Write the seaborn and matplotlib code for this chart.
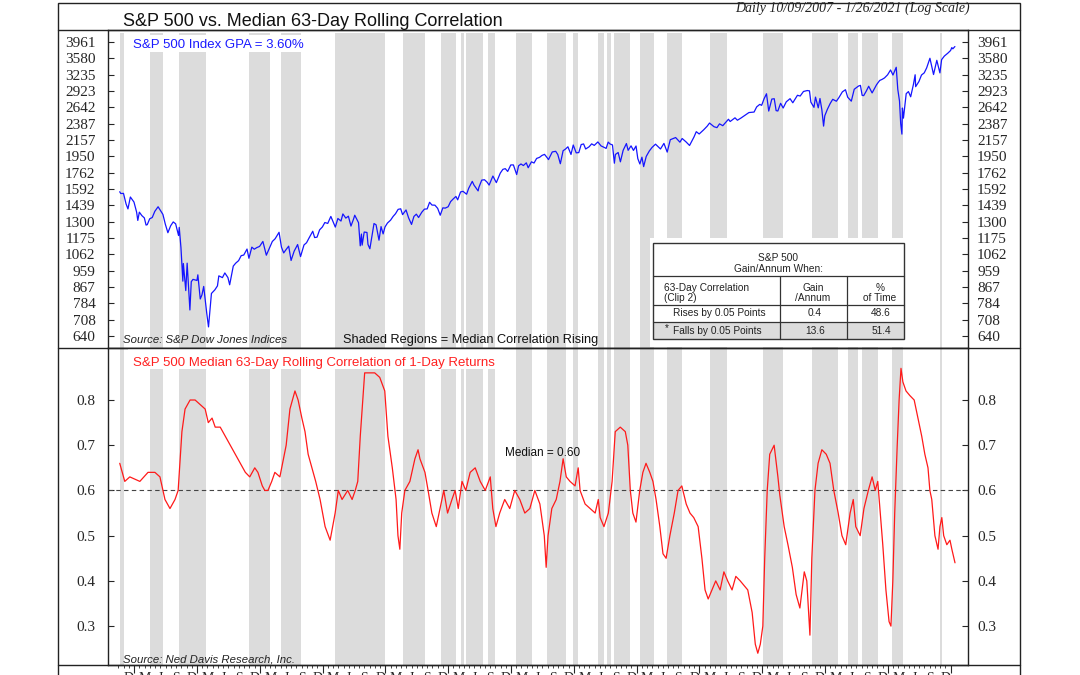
import pandas as pd
import numpy as np
import matplotlib.pyplot as plt
import seaborn as sns
from matplotlib.patches import Rectangle
from matplotlib.lines import Line2D
from matplotlib.ticker import NullLocator, FixedLocator

# S&P 500 index (approx. closes)
spx_dates = [
    "2007-10-09", "2007-10-15", "2007-10-31", "2007-11-15", "2007-11-26", "2007-12-10", "2007-12-31",
    "2008-01-15", "2008-01-22", "2008-01-31", "2008-02-15", "2008-02-29", "2008-03-10", "2008-03-17",
    "2008-03-31", "2008-04-15", "2008-04-30", "2008-05-19", "2008-05-30", "2008-06-16", "2008-06-30",
    "2008-07-15", "2008-07-31", "2008-08-15", "2008-08-29", "2008-09-15", "2008-09-19", "2008-09-29",
    "2008-10-10", "2008-10-13", "2008-10-27", "2008-11-04", "2008-11-20", "2008-11-28", "2008-12-08",
    "2008-12-31",
    "2009-01-06", "2009-01-20", "2009-01-30", "2009-02-09", "2009-02-27", "2009-03-09", "2009-03-26",
    "2009-04-15", "2009-04-30", "2009-05-08", "2009-05-29", "2009-06-12", "2009-06-30", "2009-07-10",
    "2009-07-31", "2009-08-14", "2009-08-31", "2009-09-15", "2009-09-30", "2009-10-19", "2009-10-30",
    "2009-11-16", "2009-11-30", "2009-12-15", "2009-12-31",
    "2010-01-19", "2010-02-08", "2010-02-26", "2010-03-15", "2010-03-31", "2010-04-23", "2010-05-07",
    "2010-05-20", "2010-05-31", "2010-06-18", "2010-07-02", "2010-07-20", "2010-08-09", "2010-08-26",
    "2010-09-15", "2010-09-30", "2010-10-15", "2010-11-05", "2010-11-16", "2010-11-30", "2010-12-15",
    "2010-12-31",
    "2011-01-14", "2011-01-31", "2011-02-18", "2011-03-16", "2011-03-31", "2011-04-18", "2011-04-29",
    "2011-05-16", "2011-05-31", "2011-06-15", "2011-06-30", "2011-07-07", "2011-07-29", "2011-08-08",
    "2011-08-15", "2011-08-19", "2011-08-31", "2011-09-16", "2011-09-22", "2011-10-03", "2011-10-27",
    "2011-11-08", "2011-11-25", "2011-12-07", "2011-12-19", "2011-12-30",
    "2012-01-13", "2012-01-31", "2012-02-15", "2012-02-29", "2012-03-15", "2012-03-30", "2012-04-10",
    "2012-04-30", "2012-05-15", "2012-06-01", "2012-06-15", "2012-06-29", "2012-07-12", "2012-07-31",
    "2012-08-15", "2012-08-31", "2012-09-14", "2012-09-28", "2012-10-15", "2012-10-31", "2012-11-15",
    "2012-11-30", "2012-12-14", "2012-12-31",
    "2013-01-15", "2013-01-31", "2013-02-15", "2013-02-25", "2013-03-14", "2013-03-28", "2013-04-18",
    "2013-04-30", "2013-05-21", "2013-05-31", "2013-06-24", "2013-06-28", "2013-07-15", "2013-07-31",
    "2013-08-15", "2013-08-27", "2013-09-18", "2013-09-30", "2013-10-08", "2013-10-31", "2013-11-15",
    "2013-11-29", "2013-12-13", "2013-12-31",
    "2014-01-15", "2014-02-03", "2014-02-14", "2014-02-28", "2014-03-14", "2014-03-31", "2014-04-11",
    "2014-04-30", "2014-05-15", "2014-05-30", "2014-06-16", "2014-06-30", "2014-07-15", "2014-07-31",
    "2014-08-07", "2014-08-29", "2014-09-18", "2014-09-30", "2014-10-15", "2014-10-31", "2014-11-14",
    "2014-11-28", "2014-12-16", "2014-12-29",
    "2015-01-15", "2015-01-30", "2015-02-13", "2015-02-27", "2015-03-11", "2015-03-31", "2015-04-15",
    "2015-04-30", "2015-05-21", "2015-06-08", "2015-06-29", "2015-07-08", "2015-07-20", "2015-07-31",
    "2015-08-14", "2015-08-25", "2015-08-31", "2015-09-16", "2015-09-29", "2015-10-15", "2015-11-03",
    "2015-11-13", "2015-11-30", "2015-12-14", "2015-12-29",
    "2016-01-08", "2016-01-20", "2016-02-01", "2016-02-11", "2016-02-26", "2016-03-15", "2016-03-31",
    "2016-04-20", "2016-05-19", "2016-06-08", "2016-06-27", "2016-07-15", "2016-08-15", "2016-09-09",
    "2016-09-22", "2016-10-14", "2016-11-04", "2016-11-30", "2016-12-13", "2016-12-30",
    "2017-01-26", "2017-02-15", "2017-03-01", "2017-03-27", "2017-04-13", "2017-04-28", "2017-05-17",
    "2017-06-19", "2017-06-29", "2017-07-27", "2017-08-10", "2017-08-31", "2017-09-20", "2017-10-16",
    "2017-11-15", "2017-11-30", "2017-12-18", "2017-12-29",
    "2018-01-12", "2018-01-26", "2018-02-08", "2018-02-26", "2018-03-12", "2018-03-23", "2018-04-02",
    "2018-04-18", "2018-05-03", "2018-05-21", "2018-06-12", "2018-06-28", "2018-07-25", "2018-08-10",
    "2018-08-29", "2018-09-20", "2018-10-03", "2018-10-11", "2018-10-29", "2018-11-07", "2018-11-23",
    "2018-12-03", "2018-12-14", "2018-12-24", "2018-12-31",
    "2019-01-15", "2019-01-31", "2019-02-15", "2019-03-08", "2019-03-22", "2019-04-12", "2019-04-30",
    "2019-05-13", "2019-06-03", "2019-06-20", "2019-07-15", "2019-07-26", "2019-08-05", "2019-08-14",
    "2019-08-30", "2019-09-12", "2019-10-02", "2019-10-28", "2019-11-15", "2019-11-29", "2019-12-13",
    "2019-12-31",
    "2020-01-17", "2020-01-31", "2020-02-19", "2020-02-28", "2020-03-09", "2020-03-16", "2020-03-23",
    "2020-03-26", "2020-04-01", "2020-04-17", "2020-04-30", "2020-05-13", "2020-05-29", "2020-06-08",
    "2020-06-11", "2020-06-30", "2020-07-15", "2020-07-31", "2020-08-14", "2020-09-02", "2020-09-23",
    "2020-10-12", "2020-10-30", "2020-11-09", "2020-11-25", "2020-12-15", "2020-12-31",
    "2021-01-08", "2021-01-14", "2021-01-26",
]
spx_values = [
    1565, 1548, 1549, 1451, 1407, 1515, 1468,
    1380, 1310, 1379, 1349, 1331, 1273, 1276, 1323, 1334, 1386, 1426, 1400, 1360, 1280,
    1214, 1267, 1298, 1283, 1193, 1255, 1106, 899, 1003, 848, 1005, 752, 896, 909, 903,
    935, 805, 826, 870, 735, 677, 833, 852, 873, 929, 919, 946, 919, 879,
    987, 1005, 1021, 1053, 1057, 1097, 1036, 1110, 1096, 1107, 1115,
    1150, 1056, 1104, 1150, 1169, 1217, 1110, 1071, 1089, 1117, 1022, 1083, 1128, 1047,
    1125, 1141, 1176, 1225, 1178, 1181, 1236, 1258,
    1293, 1286, 1343, 1257, 1326, 1305, 1364, 1329, 1345, 1265, 1321, 1353, 1292, 1119,
    1204, 1124, 1219, 1216, 1129, 1099, 1285, 1275, 1159, 1261, 1205, 1258,
    1289, 1312, 1343, 1366, 1403, 1408, 1358, 1398, 1331, 1278, 1343, 1362, 1334, 1379,
    1405, 1407, 1466, 1441, 1440, 1412, 1353, 1416, 1414, 1426,
    1472, 1498, 1520, 1488, 1563, 1569, 1541, 1598, 1669, 1631, 1573, 1606, 1682, 1686,
    1661, 1631, 1725, 1682, 1656, 1757, 1798, 1806, 1775, 1848,
    1848, 1741, 1838, 1859, 1841, 1872, 1816, 1884, 1870, 1924, 1937, 1960, 1973, 1931,
    1910, 2003, 2011, 1972, 1862, 2018, 2039, 2068, 1972, 2091,
    1992, 1995, 2097, 2105, 2040, 2068, 2106, 2086, 2131, 2080, 2058, 2047, 2129, 2104,
    2092, 1868, 1972, 1996, 1884, 2023, 2110, 2023, 2080, 2022, 2078,
    1922, 1859, 1939, 1829, 1948, 2015, 2060, 2102, 2040, 2112, 2001, 2161, 2190, 2128,
    2177, 2133, 2085, 2199, 2271, 2239,
    2298, 2349, 2396, 2342, 2329, 2384, 2357, 2453, 2419, 2475, 2438, 2472, 2508, 2557,
    2565, 2648, 2690, 2674,
    2786, 2873, 2581, 2780, 2786, 2588, 2582, 2708, 2630, 2733, 2787, 2717, 2846, 2833,
    2914, 2931, 2925, 2728, 2641, 2814, 2633, 2790, 2600, 2351, 2507,
    2610, 2704, 2776, 2743, 2801, 2907, 2946, 2812, 2744, 2954, 3014, 3026, 2845, 2840,
    2926, 3010, 2888, 3040, 3120, 3141, 3169, 3231,
    3330, 3226, 3386, 2954, 2747, 2386, 2237, 2630, 2470, 2875, 2912, 2820, 3044, 3232,
    3002, 3100, 3227, 3271, 3373, 3580, 3237, 3535, 3270, 3550, 3630, 3695, 3756,
    3825, 3796, 3850,
]

# median 63-day rolling correlation (decimal years)
corr_years = [
    2007.77, 2007.85, 2007.93, 2008.09, 2008.22, 2008.33, 2008.41, 2008.49, 2008.57, 2008.65,
    2008.70, 2008.76, 2008.81, 2008.89, 2008.97, 2009.05, 2009.13, 2009.18, 2009.24, 2009.29,
    2009.37, 2009.45, 2009.53, 2009.61, 2009.69, 2009.77, 2009.84, 2009.92, 2009.97, 2010.04,
    2010.08, 2010.13, 2010.19, 2010.24, 2010.32, 2010.42, 2010.48, 2010.56, 2010.61, 2010.67,
    2010.72, 2010.77, 2010.83, 2010.89, 2010.96, 2011.04, 2011.12, 2011.20, 2011.25, 2011.31,
    2011.40, 2011.47, 2011.52, 2011.56, 2011.60, 2011.64, 2011.67, 2011.75, 2011.83, 2011.91,
    2011.99, 2012.04, 2012.11, 2012.17, 2012.20, 2012.23, 2012.26, 2012.31, 2012.39, 2012.47,
    2012.52, 2012.55, 2012.63, 2012.68, 2012.74, 2012.81, 2012.87, 2012.93, 2012.99, 2013.06,
    2013.11, 2013.16, 2013.22, 2013.28, 2013.35, 2013.43, 2013.51, 2013.59, 2013.67, 2013.71,
    2013.76, 2013.82, 2013.90, 2013.98, 2014.06, 2014.14, 2014.22, 2014.30, 2014.38, 2014.46,
    2014.53, 2014.56, 2014.59, 2014.65, 2014.72, 2014.78, 2014.83, 2014.88, 2014.94, 2015.02,
    2015.07, 2015.10, 2015.18, 2015.26, 2015.34, 2015.39, 2015.42, 2015.48, 2015.55, 2015.61,
    2015.66, 2015.74, 2015.82, 2015.86, 2015.90, 2015.94, 2015.99, 2016.05, 2016.10, 2016.15,
    2016.21, 2016.26, 2016.31, 2016.37, 2016.42, 2016.47, 2016.53, 2016.60, 2016.66, 2016.72,
    2016.79, 2016.85, 2016.91, 2016.98, 2017.04, 2017.09, 2017.14, 2017.20, 2017.26, 2017.33,
    2017.39, 2017.45, 2017.52, 2017.58, 2017.65, 2017.71, 2017.77, 2017.84, 2017.89, 2017.93,
    2017.97, 2018.01, 2018.04, 2018.08, 2018.12, 2018.19, 2018.25, 2018.28, 2018.35, 2018.41,
    2018.48, 2018.54, 2018.60, 2018.67, 2018.71, 2018.76, 2018.79, 2018.84, 2018.89, 2018.95,
    2019.02, 2019.08, 2019.14, 2019.21, 2019.27, 2019.33, 2019.40, 2019.45, 2019.49, 2019.56,
    2019.62, 2019.69, 2019.75, 2019.80, 2019.84, 2019.88, 2019.92, 2019.97, 2020.02, 2020.05,
    2020.08, 2020.11, 2020.15, 2020.18, 2020.21, 2020.24, 2020.29, 2020.35, 2020.42, 2020.48,
    2020.54, 2020.59, 2020.64, 2020.67, 2020.70, 2020.75, 2020.80, 2020.83, 2020.86, 2020.89,
    2020.94, 2020.99, 2021.02, 2021.07,
]
corr_values = [
    0.66, 0.62, 0.63, 0.62, 0.64, 0.64, 0.63, 0.58, 0.56, 0.58,
    0.60, 0.73, 0.78, 0.80, 0.80, 0.79, 0.78, 0.75, 0.76, 0.74,
    0.74, 0.72, 0.70, 0.68, 0.66, 0.64, 0.63, 0.65, 0.64, 0.61,
    0.60, 0.60, 0.62, 0.64, 0.63, 0.70, 0.78, 0.82, 0.80, 0.76,
    0.73, 0.68, 0.65, 0.62, 0.58, 0.52, 0.49, 0.55, 0.60, 0.58,
    0.60, 0.58, 0.60, 0.62, 0.72, 0.80, 0.86, 0.86, 0.86, 0.85,
    0.82, 0.72, 0.65, 0.58, 0.50, 0.47, 0.55, 0.60, 0.62, 0.67,
    0.69, 0.67, 0.64, 0.60, 0.55, 0.52, 0.56, 0.60, 0.55, 0.58,
    0.60, 0.56, 0.62, 0.60, 0.64, 0.65, 0.62, 0.60, 0.63, 0.56,
    0.52, 0.55, 0.58, 0.56, 0.60, 0.58, 0.55, 0.56, 0.60, 0.57,
    0.50, 0.43, 0.50, 0.56, 0.58, 0.62, 0.67, 0.63, 0.62, 0.61,
    0.65, 0.60, 0.57, 0.56, 0.55, 0.58, 0.54, 0.52, 0.55, 0.62,
    0.73, 0.74, 0.73, 0.70, 0.60, 0.55, 0.53, 0.60, 0.64, 0.66,
    0.64, 0.62, 0.58, 0.52, 0.46, 0.45, 0.50, 0.55, 0.60, 0.61,
    0.57, 0.55, 0.54, 0.52, 0.45, 0.38, 0.36, 0.38, 0.40, 0.38,
    0.42, 0.40, 0.38, 0.41, 0.40, 0.39, 0.38, 0.33, 0.26, 0.24,
    0.26, 0.30, 0.45, 0.60, 0.68, 0.70, 0.63, 0.59, 0.52, 0.48,
    0.43, 0.37, 0.34, 0.42, 0.40, 0.28, 0.45, 0.60, 0.66, 0.69,
    0.68, 0.66, 0.60, 0.55, 0.50, 0.48, 0.55, 0.58, 0.52, 0.50,
    0.56, 0.60, 0.63, 0.60, 0.62, 0.55, 0.48, 0.38, 0.31, 0.30,
    0.40, 0.55, 0.70, 0.80, 0.87, 0.84, 0.82, 0.81, 0.80, 0.76,
    0.72, 0.68, 0.65, 0.60, 0.58, 0.50, 0.47, 0.52, 0.54, 0.50,
    0.48, 0.49, 0.47, 0.44,
]

# shaded regions = median correlation rising (decimal years)
band_starts = [2007.77, 2008.25, 2008.71, 2009.83, 2010.34, 2011.20, 2012.28, 2012.89, 2013.20,
               2013.28, 2013.63, 2014.08, 2014.57, 2014.99, 2015.39, 2015.53, 2015.64, 2016.05,
               2016.48, 2017.17, 2018.01, 2018.79, 2019.37, 2019.59, 2020.07, 2020.83]
band_ends = [2007.84, 2008.46, 2009.14, 2010.16, 2010.66, 2011.99, 2012.63, 2013.12, 2013.25,
             2013.55, 2013.75, 2014.33, 2014.88, 2015.07, 2015.48, 2015.59, 2015.90, 2016.28,
             2016.72, 2017.44, 2018.33, 2019.21, 2019.53, 2019.84, 2020.24, 2020.86]

spx_ticks = [640, 708, 784, 867, 959, 1062, 1175, 1300, 1439, 1592, 1762, 1950, 2157,
             2387, 2642, 2923, 3235, 3580, 3961]
corr_ticks = [0.3, 0.4, 0.5, 0.6, 0.7, 0.8]
corr_median = 0.60
month_letters = {3: "M", 6: "J", 9: "S", 12: "D"}

table_rows = ["Rises by 0.05 Points", "Falls by 0.05 Points"]
table_gain = ["0.4", "13.6"]
table_time = ["48.6", "51.4"]

sns.set_style("white")
plt.rcParams["font.family"] = ["Liberation Sans", "DejaVu Sans"]
SERIF = ["Liberation Serif", "DejaVu Serif"]

W, H = 1080, 675
fig = plt.figure(figsize=(W / 100, H / 100), dpi=100)


def fx(px):
    return px / W


def fy(py):
    return 1 - py / H


L, R = 108, 968
ax1 = fig.add_axes([fx(L), fy(348), fx(R) - fx(L), fy(30) - fy(348)])
ax2 = fig.add_axes([fx(L), fy(665), fx(R) - fx(L), fy(348) - fy(665)])

d = pd.to_datetime(pd.Series(spx_dates))
spx = pd.DataFrame({"year": d.dt.year + (d.dt.dayofyear - 1) / 365.25, "close": spx_values})
corr = pd.DataFrame({"year": corr_years, "corr": corr_values})

xmin, xmax = 2007.583, 2021.277
for ax in (ax1, ax2):
    for s, e in zip(band_starts, band_ends):
        ax.axvspan(s, e, ymax=0.99 if ax is ax1 else 1, color="#dcdcdc", lw=0, zorder=0)
    ax.set_xlim(xmin, xmax)
    for sp in ax.spines.values():
        sp.set_color("#222222")
        sp.set_linewidth(1.0)

# white boxes behind the panel captions
for x0, y0, x1, y1 in [(128, 35, 312, 52), (128, 349, 503, 369)]:
    fig.add_artist(Rectangle((fx(x0), fy(y1)), fx(x1) - fx(x0), fy(y0) - fy(y1),
                             transform=fig.transFigure, fc="white", ec="none", zorder=1))

# top panel
sns.lineplot(data=spx, x="year", y="close", ax=ax1, color="#1515ff", lw=0.9,
             estimator=None, sort=False, zorder=3)
ax1.set_yscale("log")
ax1.set_ylim(594, 4266)
ax1.set_xticks([])
ax1.set_xlabel("")
ax1.set_ylabel("")

# bottom panel
sns.lineplot(data=corr, x="year", y="corr", ax=ax2, color="#ff1a1a", lw=0.9,
             estimator=None, sort=False, zorder=3)
ax2.axhline(corr_median, color="#444444", lw=0.8, ls=(0, (4, 3)), zorder=2)
ax2.set_ylim(0.214, 0.915)
ax2.set_xlabel("")
ax2.set_ylabel("")

years = list(range(2008, 2022))
months = [(y, m) for y in range(2007, 2022) for m in range(1, 13)]
months = [(y, m) for y, m in months if 2007.74 <= y + (m - 1) / 12 <= 2021.01]
ax2.set_xticks(years)
ax2.set_xticklabels([""] * len(years))
ax2.set_xticks([y + (m - 1) / 12 for y, m in months], minor=True)
ax2.set_xticklabels([month_letters.get(m, "") for y, m in months], minor=True, fontfamily=SERIF,
                    fontsize=10)
ax2.tick_params(axis="x", which="major", direction="out", length=5.5, width=0.8, bottom=True)
ax2.tick_params(axis="x", which="minor", direction="out", length=2.5, width=0.6, bottom=True, pad=2.5)


def set_yaxis(ax, ticks, labels, scale=None):
    twin = ax.twinx()
    for a in (ax, twin):
        if scale:
            a.set_yscale(scale)
        a.set_ylim(ax.get_ylim())
        a.yaxis.set_major_locator(FixedLocator(ticks))
        a.yaxis.set_minor_locator(NullLocator())
        a.set_yticklabels(labels)
        for lab in a.get_yticklabels():
            lab.set_fontfamily(SERIF)
        a.set_ylabel("")
    ax.tick_params(axis="y", which="major", direction="in", length=4, width=0.8,
                   left=True, right=True, labelleft=True, labelright=False, labelsize=11, pad=9)
    twin.tick_params(axis="y", which="major", length=0, left=False, right=False,
                     labelleft=False, labelright=True, labelsize=11, pad=6.5)
    for sp in twin.spines.values():
        sp.set_visible(False)


set_yaxis(ax1, spx_ticks, [str(t) for t in spx_ticks], scale="log")
set_yaxis(ax2, corr_ticks, [f"{t:.1f}" for t in corr_ticks])

# frame and separators
frame_col = "#222222"
fig.add_artist(Rectangle((fx(58), fy(690)), fx(1020) - fx(58), fy(3) - fy(690),
                         transform=fig.transFigure, fill=False, ec=frame_col, lw=1.0))
for py in (30, 348, 665):
    fig.add_artist(Line2D([fx(58), fx(1020)], [fy(py), fy(py)], transform=fig.transFigure,
                          color=frame_col, lw=1.0))

fig.text(fx(123), fy(26), "S&P 500 vs. Median 63-Day Rolling Correlation", fontsize=13,
         va="baseline", color="#111111")
fig.text(fx(970), fy(12), "Daily 10/09/2007 - 1/26/2021 (Log Scale)", fontsize=10,
         family=SERIF, style="italic", ha="right", va="baseline", color="#222222")
fig.text(fx(133), fy(48), "S&P 500 Index GPA = 3.60%", fontsize=9.5, color="#1a1aff",
         va="baseline", zorder=2)
fig.text(fx(123), fy(343), "Source: S&P Dow Jones Indices", fontsize=8.2, style="italic",
         color="#222222", va="baseline")
fig.text(fx(343), fy(343), "Shaded Regions = Median Correlation Rising", fontsize=9.2,
         color="#111111", va="baseline")
fig.text(fx(133), fy(366), "S&P 500 Median 63-Day Rolling Correlation of 1-Day Returns",
         fontsize=9.5, color="#ff2020", va="baseline", zorder=2)
fig.text(fx(505), fy(456), f"Median = {corr_median:.2f}", fontsize=8.5, color="#111111", va="baseline")
fig.text(fx(123), fy(662), "Source: Ned Davis Research, Inc.", fontsize=8.2, style="italic",
         color="#222222", va="baseline")

# table with white pad behind it
fig.add_artist(Rectangle((fx(650), fy(347)), fx(910) - fx(650), fy(238) - fy(347),
                         transform=fig.transFigure, fc="white", ec="none", zorder=1))
tx0, tx1, ty0, ty1 = 653, 904, 243, 339
c1, c2 = 780, 847
r1, r2, r3 = 276, 305, 322
fig.add_artist(Rectangle((fx(tx0), fy(ty1)), fx(tx1) - fx(tx0), fy(r3) - fy(ty1),
                         transform=fig.transFigure, fc="#dcdcdc", ec="none", zorder=2))
fig.add_artist(Rectangle((fx(tx0), fy(ty1)), fx(tx1) - fx(tx0), fy(ty0) - fy(ty1),
                         transform=fig.transFigure, fill=False, ec="#333333", lw=1.0, zorder=3))
for py in (r1, r2, r3):
    fig.add_artist(Line2D([fx(tx0), fx(tx1)], [fy(py), fy(py)], transform=fig.transFigure,
                          color="#333333", lw=0.9, zorder=3))
for px in (c1, c2):
    fig.add_artist(Line2D([fx(px), fx(px)], [fy(r1), fy(ty1)], transform=fig.transFigure,
                          color="#333333", lw=0.9, zorder=3))

tkw = dict(fontsize=7.3, color="#222222", zorder=4)
fig.text(fx((tx0 + tx1) / 2), fy(258), "S&P 500", ha="center", va="center", **tkw)
fig.text(fx((tx0 + tx1) / 2), fy(269), "Gain/Annum When:", ha="center", va="center", **tkw)
fig.text(fx(664), fy(288), "63-Day Correlation", ha="left", va="center", **tkw)
fig.text(fx(664), fy(298), "(Clip 2)", ha="left", va="center", **tkw)
fig.text(fx(813), fy(288), "Gain", ha="center", va="center", **tkw)
fig.text(fx(813), fy(298), "/Annum", ha="center", va="center", **tkw)
fig.text(fx(880), fy(288), "%", ha="center", va="center", **tkw)
fig.text(fx(880), fy(298), "of Time", ha="center", va="center", **tkw)
for i, (lab, g, t) in enumerate(zip(table_rows, table_gain, table_time)):
    yc = (r2 + r3) / 2 if i == 0 else (r3 + ty1) / 2
    fig.text(fx(673), fy(yc), lab, ha="left", va="center", **tkw)
    fig.text(fx(815), fy(yc), g, ha="center", va="center", **tkw)
    fig.text(fx(881), fy(yc), t, ha="center", va="center", **tkw)
fig.text(fx(665), fy((r3 + ty1) / 2 - 2), "*", ha="left", va="center", **tkw)

fig.savefig("out.png", dpi=100)
